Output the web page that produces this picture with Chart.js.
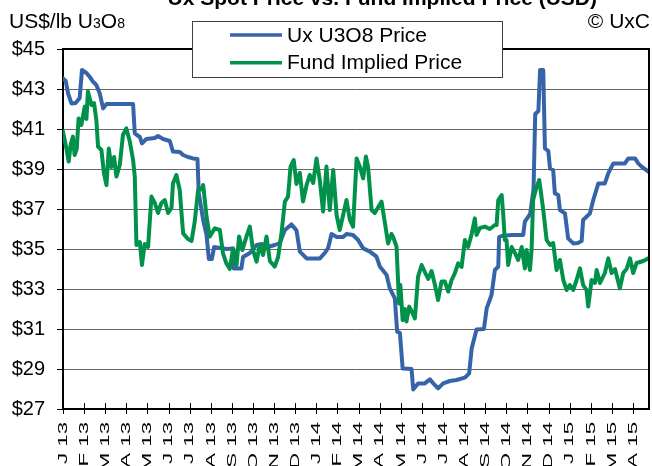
<!DOCTYPE html>
<html>
<head>
<meta charset="utf-8">
<script src="https://cdn.jsdelivr.net/npm/chart.js@4.4.1/dist/chart.umd.min.js"></script>
<style>
  html, body { margin:0; padding:0; background:#fff; }
  #wrap { position:relative; width:652px; height:466px; overflow:hidden; background:#fff; font-family:"Liberation Sans", Arial, sans-serif; color:#000; }
  canvas { position:absolute; left:0; top:0; }
  .txt { position:absolute; font-size:21px; line-height:21px; white-space:nowrap; }
  .sm { font-size:14px; }
</style>
</head>
<body>
<div id="wrap">
  <canvas id="c" width="652" height="466"></canvas>
  <div class="txt" style="right:55px; top:-13px; font-weight:bold;">Ux Spot Price vs. Fund Implied Price (USD)</div>
  <div class="txt" style="left:9px; top:10px;">US$/lb U<span class="sm">3</span>O<span class="sm">8</span></div>
  <div class="txt" style="right:2px; top:10px;">© UxC</div>
</div>
<script>
// x positions are months since January 2013 (0 = start of Jan 2013)
const xTickLabels = ['J 13','F 13','M 13','A 13','M 13','J 13','J 13','A 13','S 13','O 13','N 13','D 13',
                     'J 14','F 14','M 14','A 14','M 14','J 14','J 14','A 14','S 14','O 14','N 14','D 14',
                     'J 15','F 15','M 15','A 15'];

const uxMonths = [0.00,0.13,0.24,0.40,0.60,0.79,0.90,1.11,1.27,1.42,1.58,1.74,1.90,2.06,3.32,3.40,3.64,3.74,3.95,4.35,
  4.50,4.74,5.06,5.21,5.53,5.69,5.92,6.16,6.37,6.43,6.64,6.80,6.91,7.05,7.16,7.43,7.76,8.04,8.09,8.45,
  8.53,8.85,9.17,9.42,9.70,10.03,10.27,10.51,10.82,11.06,11.22,11.54,12.17,12.40,12.56,12.72,12.97,13.27,13.43,13.74,
  13.98,14.22,14.54,14.85,15.01,15.33,15.48,15.72,15.83,15.96,16.09,16.51,16.59,16.82,17.14,17.38,17.54,17.77,18.01,18.33,
  18.64,19.04,19.24,19.36,19.59,19.94,20.07,20.30,20.46,20.62,20.66,20.78,21.25,21.80,21.88,22.13,22.29,22.37,22.52,22.60,
  22.75,22.83,22.99,23.07,23.22,23.30,23.46,23.54,23.78,23.93,24.17,24.39,24.57,24.64,24.96,25.12,25.36,25.67,25.83,26.07,
  26.62,26.78,27.10,27.25,27.41,27.73];
const uxPrice = [43.53,43.40,42.78,42.28,42.30,42.55,43.95,43.80,43.60,43.37,43.20,42.78,42.03,42.25,42.25,40.78,40.60,40.28,40.50,40.55,
  40.65,40.50,40.40,39.87,39.85,39.70,39.60,39.53,39.50,37.80,36.45,35.70,34.50,34.50,35.10,35.05,35.00,35.03,34.03,34.03,
  34.60,34.80,35.20,35.25,35.10,35.20,35.30,35.95,36.23,35.93,34.87,34.53,34.53,34.80,35.05,35.75,35.60,35.60,35.75,35.70,
  35.45,35.03,34.87,34.62,34.12,33.70,33.03,32.53,30.87,30.80,29.03,29.00,27.98,28.28,28.28,28.48,28.28,28.03,28.28,28.40,
  28.45,28.57,28.78,30.03,30.98,31.00,32.03,32.70,33.95,34.12,35.60,35.65,35.70,35.70,36.37,36.75,38.00,41.75,41.90,43.95,
  43.95,40.03,39.90,39.03,38.95,37.78,37.70,36.95,36.78,35.53,35.28,35.30,35.40,36.45,36.78,37.45,38.28,38.28,38.78,39.28,
  39.28,39.53,39.53,39.28,39.12,38.87];

const fundMonths = [0.00,0.16,0.27,0.36,0.47,0.55,0.65,0.74,0.87,1.03,1.11,1.18,1.35,1.47,1.58,1.66,1.82,1.94,2.06,2.17,
  2.29,2.42,2.53,2.69,2.84,3.00,3.16,3.32,3.40,3.48,3.64,3.74,3.87,4.03,4.19,4.35,4.50,4.66,4.82,4.98,
  5.14,5.21,5.37,5.53,5.69,5.92,6.09,6.24,6.40,6.56,6.64,6.80,6.95,7.19,7.43,7.58,7.74,7.90,8.06,8.22,
  8.34,8.50,8.69,8.85,9.00,9.17,9.32,9.48,9.64,9.80,10.03,10.19,10.35,10.51,10.66,10.78,10.93,11.06,11.22,11.37,
  11.54,11.69,11.85,12.01,12.17,12.32,12.48,12.64,12.80,12.96,13.11,13.27,13.43,13.59,13.74,13.91,14.06,14.22,14.35,14.45,
  14.62,14.77,15.09,15.25,15.40,15.56,15.64,15.80,15.92,15.98,16.09,16.19,16.27,16.40,16.51,16.67,16.82,16.99,17.14,17.30,
  17.46,17.62,17.77,17.93,18.09,18.25,18.41,18.56,18.72,18.88,19.04,19.19,19.36,19.51,19.59,19.75,19.99,20.22,20.46,20.54,
  20.62,20.78,20.85,20.93,21.01,21.09,21.25,21.41,21.56,21.73,21.88,21.96,22.12,22.20,22.27,22.44,22.56,22.67,22.75,22.91,
  23.07,23.22,23.38,23.54,23.70,23.86,24.01,24.17,24.33,24.49,24.64,24.80,24.88,25.04,25.20,25.28,25.44,25.67,25.83,25.99,
  26.15,26.38,26.54,26.70,26.86,27.01,27.17,27.33,27.49,27.73];
const fundPrice = [40.87,40.03,39.37,40.20,40.62,39.70,40.00,41.53,41.20,42.12,41.50,42.87,42.20,42.30,41.45,40.12,39.95,38.78,38.20,40.03,
  39.10,39.60,38.62,39.20,40.70,41.03,40.40,39.45,38.62,35.20,35.35,34.20,35.25,35.10,37.62,37.30,36.80,37.30,37.45,36.80,
  37.05,38.28,38.70,37.95,35.78,35.50,35.40,36.37,37.95,38.00,38.20,36.62,35.62,36.03,35.95,34.78,34.28,34.00,35.03,34.20,
  35.62,34.95,35.62,36.12,34.95,34.37,35.20,34.70,35.62,34.40,34.12,34.60,35.78,37.37,37.62,39.12,39.45,38.25,38.80,37.37,
  38.20,38.70,38.30,39.53,38.40,36.87,39.12,36.95,38.95,36.70,35.95,36.70,37.45,36.45,36.12,39.53,39.12,38.53,39.62,39.12,
  36.95,36.80,37.37,36.30,35.28,35.75,35.60,35.12,32.28,33.20,31.45,32.00,31.37,32.12,31.90,31.53,33.62,34.20,33.85,33.50,
  33.90,33.20,32.45,33.37,33.37,32.87,33.45,33.78,34.28,34.10,35.45,35.10,35.75,36.53,35.70,36.05,36.12,36.00,36.20,36.20,
  37.45,37.70,36.80,35.45,35.45,34.20,35.10,34.80,34.45,35.10,34.03,34.95,33.95,35.00,37.45,38.12,38.45,37.60,36.95,35.45,
  35.20,35.30,33.95,34.45,33.45,32.95,33.20,32.95,33.45,34.03,33.20,32.95,32.12,33.45,33.30,33.95,33.30,33.80,34.53,33.80,
  34.00,33.03,33.80,34.00,34.53,33.80,34.30,34.35,34.40,34.53];

const FONT = '"Liberation Sans", Arial, sans-serif';

const overlay = {
  id: 'overlay',
  afterDatasetsDraw(chart) {
    const ctx = chart.ctx, a = chart.chartArea, x = chart.scales.x;
    ctx.save();
    // top and right frame
    ctx.strokeStyle = '#000';
    ctx.lineWidth = 2;
    ctx.beginPath();
    ctx.moveTo(a.left, a.top);
    ctx.lineTo(a.right, a.top);
    ctx.lineTo(a.right, a.bottom);
    ctx.stroke();
    // x tick marks crossing the axis
    ctx.lineWidth = 1;
    xTickLabels.forEach((lab, i) => {
      const px = Math.round(x.getPixelForValue(i)) + 0.5;
      ctx.beginPath();
      ctx.moveTo(px, a.bottom - 6);
      ctx.lineTo(px, a.bottom + 5);
      ctx.stroke();
    });
    // rotated x labels
    ctx.fillStyle = '#000';
    ctx.font = '12px ' + FONT;
    ctx.textAlign = 'right';
    ctx.textBaseline = 'middle';
    xTickLabels.forEach((lab, i) => {
      const px = x.getPixelForValue(i);
      ctx.save();
      ctx.translate(px + 0.5, a.bottom + 13);
      ctx.rotate(-Math.PI / 2);
      ctx.scale(1.85, 1);
      ctx.fillText(lab, 0, 0);
      ctx.restore();
    });
    // legend box
    ctx.fillStyle = '#fff';
    ctx.fillRect(193, 22, 310, 56);
    ctx.strokeStyle = '#404040';
    ctx.lineWidth = 1;
    ctx.strokeRect(192.5, 21.5, 310, 56);
    chart.data.datasets.forEach((ds, i) => {
      const y = 35 + i * 27.7;
      ctx.strokeStyle = ds.borderColor;
      ctx.lineWidth = 3.5;
      ctx.beginPath();
      ctx.moveTo(230, y);
      ctx.lineTo(282, y);
      ctx.stroke();
      ctx.fillStyle = '#000';
      ctx.font = '21px ' + FONT;
      ctx.textAlign = 'left';
      ctx.textBaseline = 'middle';
      ctx.fillText(ds.label, 287, y + 1);
    });
    ctx.restore();
  }
};

new Chart(document.getElementById('c'), {
  type: 'line',
  data: {
    datasets: [
      { label: 'Ux U3O8 Price', data: uxMonths.map((m, i) => ({ x: m, y: uxPrice[i] })),
        borderColor: '#3565A8', borderWidth: 4, pointRadius: 0, tension: 0,
        borderJoinStyle: 'round', borderCapStyle: 'round', order: 2 },
      { label: 'Fund Implied Price', data: fundMonths.map((m, i) => ({ x: m, y: fundPrice[i] })),
        borderColor: '#00924A', borderWidth: 4, pointRadius: 0, tension: 0,
        borderJoinStyle: 'round', borderCapStyle: 'round', order: 1 }
    ]
  },
  options: {
    responsive: false,
    animation: false,
    devicePixelRatio: 1,
    layout: { padding: { top: 49, right: 3, left: 0, bottom: 0 } },
    plugins: { legend: { display: false }, tooltip: { enabled: false }, title: { display: false } },
    scales: {
      x: {
        type: 'linear', min: 0, max: 27.76,
        ticks: { display: false, stepSize: 1 },
        grid: { display: false },
        border: { display: true, color: '#000', width: 2 },
        afterFit: s => { s.height = 57; }
      },
      y: {
        min: 27, max: 45,
        ticks: { stepSize: 2, callback: v => '$' + v, color: '#000', padding: 12,
                 font: { family: FONT, size: 20 } },
        grid: { color: '#666666', lineWidth: 1, tickLength: 6, tickColor: '#000' },
        border: { display: true, color: '#000', width: 2 },
        afterFit: s => { s.width = 63; }
      }
    }
  },
  plugins: [overlay]
});
</script>
</body>
</html>
